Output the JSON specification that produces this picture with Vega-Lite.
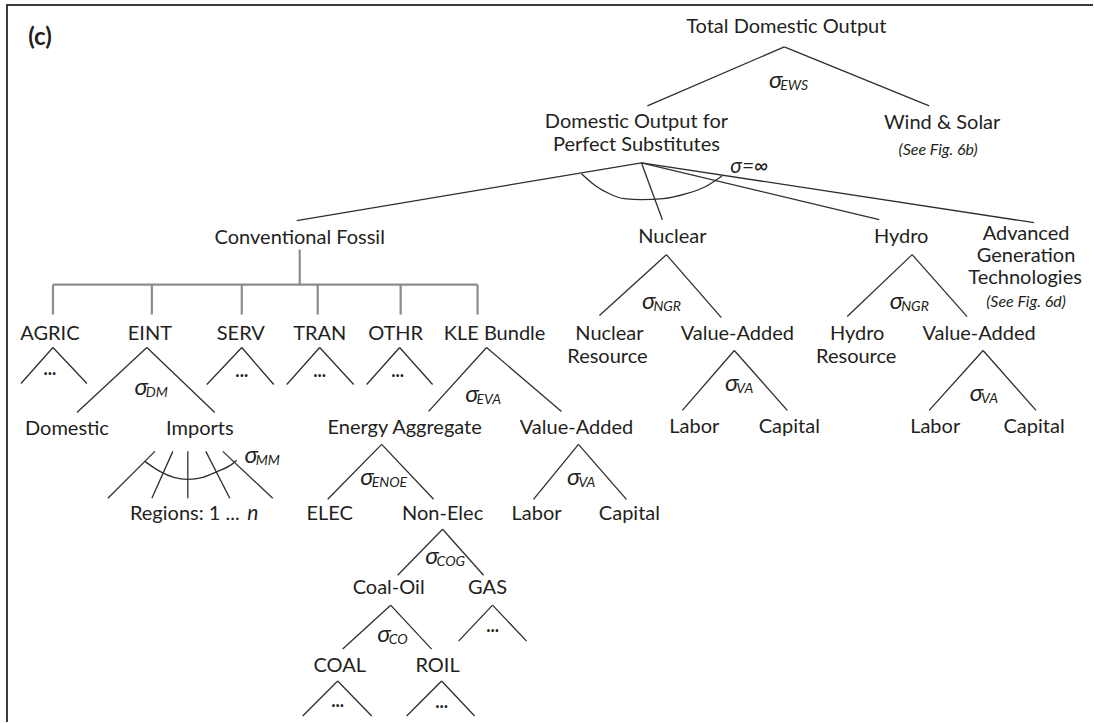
{
  "$schema": "https://vega.github.io/schema/vega-lite/v6.json",
  "width": 1094,
  "height": 723,
  "padding": 0,
  "autosize": {"type": "fit", "contains": "padding"},
  "background": "white",
  "config": {"view": {"stroke": null}, "axis": {"disable": true}},
  "datasets": {
    "edges": [
      {"x": 785, "y": 47, "x2": 648, "y2": 106},
      {"x": 785, "y": 47, "x2": 930, "y2": 106},
      {"x": 642, "y": 163, "x2": 297, "y2": 221},
      {"x": 642, "y": 163, "x2": 663, "y2": 220},
      {"x": 642, "y": 163, "x2": 880, "y2": 220},
      {"x": 642, "y": 163, "x2": 1035, "y2": 223},
      {"x": 53, "y": 348, "x2": 21, "y2": 384},
      {"x": 53, "y": 348, "x2": 87, "y2": 384},
      {"x": 147, "y": 348, "x2": 77, "y2": 413},
      {"x": 147, "y": 348, "x2": 215, "y2": 413},
      {"x": 242, "y": 348, "x2": 207, "y2": 385},
      {"x": 242, "y": 348, "x2": 274, "y2": 385},
      {"x": 320, "y": 348, "x2": 287, "y2": 385},
      {"x": 320, "y": 348, "x2": 354, "y2": 385},
      {"x": 400, "y": 348, "x2": 367, "y2": 385},
      {"x": 400, "y": 348, "x2": 433, "y2": 385},
      {"x": 487, "y": 348, "x2": 429, "y2": 412},
      {"x": 487, "y": 348, "x2": 562, "y2": 412},
      {"x": 155, "y": 452, "x2": 108, "y2": 499},
      {"x": 173, "y": 452, "x2": 152, "y2": 499},
      {"x": 188, "y": 452, "x2": 188, "y2": 499},
      {"x": 206, "y": 452, "x2": 230, "y2": 499},
      {"x": 223, "y": 452, "x2": 273, "y2": 499},
      {"x": 382, "y": 445, "x2": 328, "y2": 500},
      {"x": 382, "y": 445, "x2": 434, "y2": 500},
      {"x": 579, "y": 445, "x2": 534, "y2": 500},
      {"x": 579, "y": 445, "x2": 627, "y2": 500},
      {"x": 443, "y": 530, "x2": 398, "y2": 576},
      {"x": 443, "y": 530, "x2": 484, "y2": 576},
      {"x": 391, "y": 606, "x2": 343, "y2": 650},
      {"x": 391, "y": 606, "x2": 432, "y2": 650},
      {"x": 493, "y": 606, "x2": 459, "y2": 642},
      {"x": 493, "y": 606, "x2": 527, "y2": 642},
      {"x": 338, "y": 682, "x2": 303, "y2": 717},
      {"x": 338, "y": 682, "x2": 372, "y2": 717},
      {"x": 442, "y": 682, "x2": 407, "y2": 717},
      {"x": 442, "y": 682, "x2": 475, "y2": 717},
      {"x": 667, "y": 255, "x2": 600, "y2": 316},
      {"x": 667, "y": 255, "x2": 722, "y2": 318},
      {"x": 735, "y": 351, "x2": 683, "y2": 411},
      {"x": 735, "y": 351, "x2": 788, "y2": 411},
      {"x": 913, "y": 255, "x2": 848, "y2": 317},
      {"x": 913, "y": 255, "x2": 968, "y2": 317},
      {"x": 984, "y": 351, "x2": 930, "y2": 411},
      {"x": 984, "y": 351, "x2": 1037, "y2": 411}
    ],
    "grayedges": [
      {"x": 300, "y": 250, "x2": 300, "y2": 285},
      {"x": 53, "y": 285, "x2": 478, "y2": 285},
      {"x": 53, "y": 285, "x2": 53, "y2": 315},
      {"x": 152, "y": 285, "x2": 152, "y2": 315},
      {"x": 242, "y": 285, "x2": 242, "y2": 315},
      {"x": 318, "y": 285, "x2": 318, "y2": 315},
      {"x": 401, "y": 285, "x2": 401, "y2": 315},
      {"x": 478, "y": 285, "x2": 478, "y2": 315}
    ],
    "frame": [
      {"x": 6, "y": 5, "x2": 1094, "y2": 5},
      {"x": 7, "y": 5, "x2": 7, "y2": 723}
    ],
    "arcs": [
      {"arc": "inf", "i": 1, "x": 582, "y": 174},
      {"arc": "inf", "i": 2, "x": 596, "y": 186},
      {"arc": "inf", "i": 3, "x": 610, "y": 194},
      {"arc": "inf", "i": 4, "x": 625, "y": 199},
      {"arc": "inf", "i": 5, "x": 642, "y": 200},
      {"arc": "inf", "i": 6, "x": 664, "y": 199},
      {"arc": "inf", "i": 7, "x": 687, "y": 194},
      {"arc": "inf", "i": 8, "x": 706, "y": 187},
      {"arc": "inf", "i": 9, "x": 723, "y": 176},
      {"arc": "mm", "i": 1, "x": 145, "y": 462},
      {"arc": "mm", "i": 2, "x": 160, "y": 472},
      {"arc": "mm", "i": 3, "x": 174, "y": 478},
      {"arc": "mm", "i": 4, "x": 188, "y": 480},
      {"arc": "mm", "i": 5, "x": 203, "y": 478},
      {"arc": "mm", "i": 6, "x": 218, "y": 472},
      {"arc": "mm", "i": 7, "x": 232, "y": 465},
      {"arc": "mm", "i": 8, "x": 237, "y": 461}
    ],
    "labels": [
      {"t": "Total Domestic Output", "x": 787, "y": 27},
      {"t": "Domestic Output for", "x": 637, "y": 122},
      {"t": "Perfect Substitutes", "x": 637, "y": 145},
      {"t": "Wind & Solar", "x": 943, "y": 123},
      {"t": "Conventional Fossil", "x": 300, "y": 238},
      {"t": "Nuclear", "x": 673, "y": 237},
      {"t": "Hydro", "x": 902, "y": 237},
      {"t": "Advanced", "x": 1027, "y": 234},
      {"t": "Generation", "x": 1027, "y": 256},
      {"t": "Technologies", "x": 1026, "y": 278},
      {"t": "AGRIC", "x": 50, "y": 334},
      {"t": "EINT", "x": 150, "y": 334},
      {"t": "SERV", "x": 241, "y": 334},
      {"t": "TRAN", "x": 320, "y": 334},
      {"t": "OTHR", "x": 396, "y": 334},
      {"t": "KLE Bundle", "x": 495, "y": 334},
      {"t": "Nuclear", "x": 610, "y": 334},
      {"t": "Resource", "x": 608, "y": 357},
      {"t": "Value-Added", "x": 738, "y": 334},
      {"t": "Hydro", "x": 858, "y": 334},
      {"t": "Resource", "x": 857, "y": 357},
      {"t": "Value-Added", "x": 980, "y": 334},
      {"t": "Domestic", "x": 67, "y": 430},
      {"t": "Imports", "x": 200, "y": 430},
      {"t": "Energy Aggregate", "x": 405, "y": 429},
      {"t": "Value-Added", "x": 577, "y": 429},
      {"t": "Labor", "x": 695, "y": 428},
      {"t": "Capital", "x": 790, "y": 428},
      {"t": "Labor", "x": 936, "y": 428},
      {"t": "Capital", "x": 1035, "y": 428},
      {"t": "Regions: 1 ...", "x": 185, "y": 515},
      {"t": "ELEC", "x": 330, "y": 515},
      {"t": "Non-Elec", "x": 443, "y": 515},
      {"t": "Labor", "x": 537, "y": 515},
      {"t": "Capital", "x": 630, "y": 515},
      {"t": "Coal-Oil", "x": 389, "y": 589},
      {"t": "GAS", "x": 488, "y": 589},
      {"t": "COAL", "x": 340, "y": 667},
      {"t": "ROIL", "x": 438, "y": 667}
    ],
    "italics": [
      {"t": "(See Fig. 6b)", "x": 939, "y": 150},
      {"t": "(See Fig. 6d)", "x": 1027, "y": 302}
    ],
    "bigitalics": [
      {"t": "σ=∞", "x": 750, "y": 167},
      {"t": "n", "x": 253, "y": 515}
    ],
    "bold": [
      {"t": "(c)", "x": 40, "y": 38}
    ],
    "dots": [
      {"x": 50, "y": 376},
      {"x": 242, "y": 378},
      {"x": 320, "y": 378},
      {"x": 398, "y": 378},
      {"x": 493, "y": 633},
      {"x": 338, "y": 708},
      {"x": 442, "y": 709}
    ],
    "sigmas": [
      {"sub": "EWS", "x": 782, "y": 81},
      {"sub": "DM", "x": 147, "y": 389},
      {"sub": "MM", "x": 257, "y": 457},
      {"sub": "EVA", "x": 478, "y": 396},
      {"sub": "ENOE", "x": 373, "y": 479},
      {"sub": "VA", "x": 580, "y": 479},
      {"sub": "COG", "x": 438, "y": 558},
      {"sub": "CO", "x": 390, "y": 636},
      {"sub": "NGR", "x": 655, "y": 302},
      {"sub": "VA", "x": 738, "y": 385},
      {"sub": "NGR", "x": 903, "y": 302},
      {"sub": "VA", "x": 983, "y": 395}
    ]
  },
  "layer": [
    {
      "data": {"name": "frame"},
      "mark": {"type": "rule", "color": "#3a3a3a", "strokeWidth": 2},
      "encoding": {
        "x": {"field": "x", "type": "quantitative", "scale": {"domain": [0, 1094], "nice": false, "zero": false}},
        "y": {"field": "y", "type": "quantitative", "scale": {"domain": [0, 723], "nice": false, "zero": false, "reverse": true}},
        "x2": {"field": "x2"},
        "y2": {"field": "y2"}
      }
    },
    {
      "data": {"name": "grayedges"},
      "mark": {"type": "rule", "color": "#8c8c8c", "strokeWidth": 2.2},
      "encoding": {
        "x": {"field": "x", "type": "quantitative"},
        "y": {"field": "y", "type": "quantitative"},
        "x2": {"field": "x2"},
        "y2": {"field": "y2"}
      }
    },
    {
      "data": {"name": "edges"},
      "mark": {"type": "rule", "color": "#2e2e2e", "strokeWidth": 1.3},
      "encoding": {
        "x": {"field": "x", "type": "quantitative"},
        "y": {"field": "y", "type": "quantitative"},
        "x2": {"field": "x2"},
        "y2": {"field": "y2"}
      }
    },
    {
      "data": {"name": "arcs"},
      "mark": {"type": "line", "color": "#2e2e2e", "strokeWidth": 1.3, "interpolate": "monotone"},
      "encoding": {
        "x": {"field": "x", "type": "quantitative"},
        "y": {"field": "y", "type": "quantitative"},
        "detail": {"field": "arc"},
        "order": {"field": "i", "type": "quantitative"}
      }
    },
    {
      "data": {"name": "labels"},
      "mark": {"type": "text", "font": "Lato", "fontSize": 20, "color": "#231f20", "baseline": "middle", "align": "center"},
      "encoding": {
        "x": {"field": "x", "type": "quantitative"},
        "y": {"field": "y", "type": "quantitative"},
        "text": {"field": "t"}
      }
    },
    {
      "data": {"name": "italics"},
      "mark": {"type": "text", "font": "Lato", "fontSize": 16, "fontStyle": "italic", "color": "#231f20", "baseline": "middle", "align": "center"},
      "encoding": {
        "x": {"field": "x", "type": "quantitative"},
        "y": {"field": "y", "type": "quantitative"},
        "text": {"field": "t"}
      }
    },
    {
      "data": {"name": "bigitalics"},
      "mark": {"type": "text", "font": "Lato", "fontSize": 21, "fontStyle": "italic", "color": "#231f20", "baseline": "middle", "align": "center"},
      "encoding": {
        "x": {"field": "x", "type": "quantitative"},
        "y": {"field": "y", "type": "quantitative"},
        "text": {"field": "t"}
      }
    },
    {
      "data": {"name": "bold"},
      "mark": {"type": "text", "font": "Lato", "fontSize": 24, "fontWeight": "bold", "color": "#231f20", "baseline": "middle", "align": "center"},
      "encoding": {
        "x": {"field": "x", "type": "quantitative"},
        "y": {"field": "y", "type": "quantitative"},
        "text": {"field": "t"}
      }
    },
    {
      "data": {"name": "dots"},
      "mark": {"type": "text", "font": "Lato", "fontSize": 18, "fontWeight": "bold", "color": "#231f20", "baseline": "alphabetic", "align": "center"},
      "encoding": {
        "x": {"field": "x", "type": "quantitative"},
        "y": {"field": "y", "type": "quantitative"},
        "text": {"value": "..."}
      }
    },
    {
      "data": {"name": "sigmas"},
      "mark": {"type": "text", "font": "Lato", "fontSize": 24, "fontStyle": "italic", "color": "#231f20", "baseline": "middle", "align": "right", "dx": 1},
      "encoding": {
        "x": {"field": "x", "type": "quantitative"},
        "y": {"field": "y", "type": "quantitative"},
        "text": {"value": "σ"}
      }
    },
    {
      "data": {"name": "sigmas"},
      "mark": {"type": "text", "font": "Lato", "fontSize": 14, "fontStyle": "italic", "color": "#231f20", "baseline": "middle", "align": "left", "dy": 5, "dx": -1},
      "encoding": {
        "x": {"field": "x", "type": "quantitative"},
        "y": {"field": "y", "type": "quantitative"},
        "text": {"field": "sub"}
      }
    }
  ]
}
